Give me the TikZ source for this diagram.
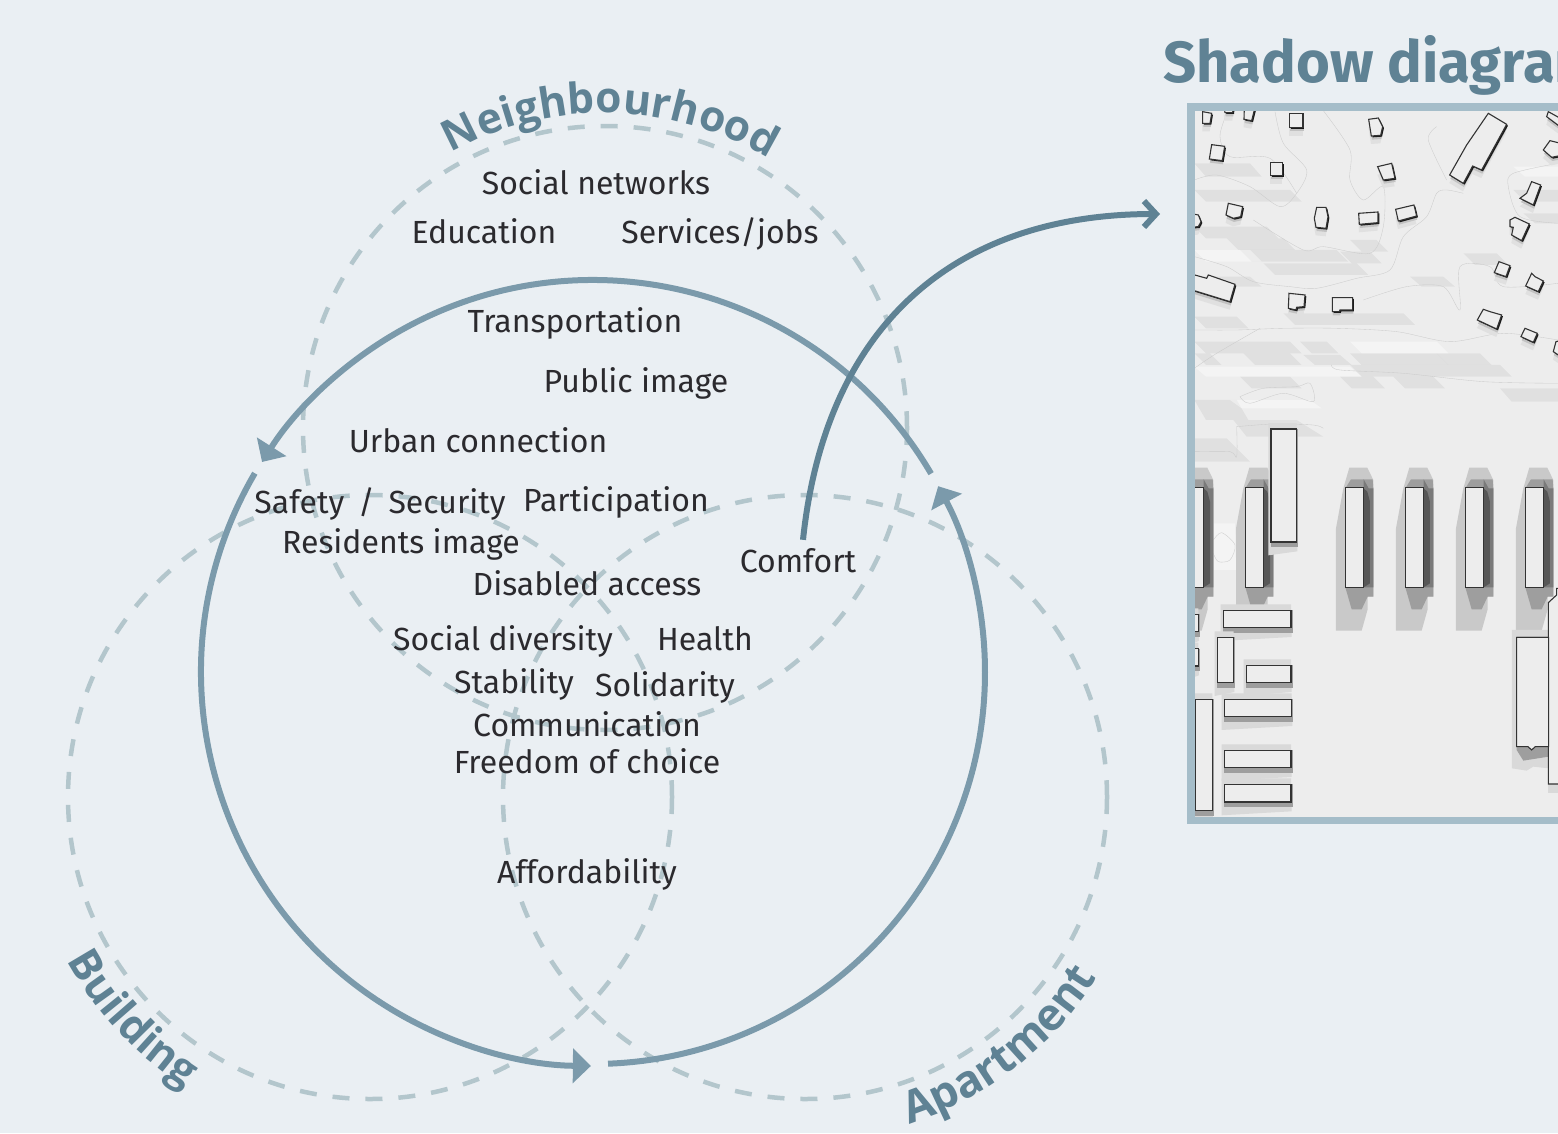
\documentclass[tikz,border=0pt]{standalone}
\usepackage{fontspec}
\setmainfont{Fira Sans}
\newfontfamily\headf{Open Sans}
\usetikzlibrary{arrows.meta,decorations.text,calc}
\definecolor{bgc}{HTML}{EAEFF3}
\definecolor{solidc}{HTML}{7B9AAB}
\definecolor{dashc}{HTML}{B3C6CC}
\definecolor{deepc}{HTML}{5F8294}
\definecolor{inkc}{HTML}{2B2A2E}
\definecolor{framec}{HTML}{A5BDC9}
\definecolor{mapc}{HTML}{EDEDED}
\tikzset{
  lab/.style={anchor=base,inner sep=0pt,text=inkc,font=\fontsize{32}{32}\selectfont},
  ringdash/.style={draw=dashc,line width=4.5pt,dash pattern=on 17pt off 16pt},
  ringarc/.style={draw=solidc,line width=6pt,-{Triangle[length=18pt,width=34pt,fill=solidc]}},
  patchdark/.style={fill=black,fill opacity=.05},
  patchlight/.style={fill=white,fill opacity=.4},
  contourl/.style={draw=black!20,line width=.35pt},
  bldg/.style={fill=mapc,draw=black!80,line width=1.1pt,line join=miter},
}
\newcommand\patchd[4]{\fill[patchdark] (#1,#2)--(#3,#2)--($(#3,#4)+(35,0)$)--($(#1,#4)+(35,0)$)--cycle;}
\newcommand\patchl[4]{\fill[patchlight] (#1,#2)--(#3,#2)--($(#3,#4)+(35,0)$)--($(#1,#4)+(35,0)$)--cycle;}
\newcommand\hut[1]{%
  \fill[black!12,shift={(-1,24)}] #1 -- cycle;
  \fill[black!24,shift={(2,11)}] #1 -- cycle;
  \fill[black!90,shift={(4,4)}] #1 -- cycle;
  \draw[bldg] #1 -- cycle;}
\newcommand\slab[2]{%
  \begin{scope}[shift={(#1,0)}]
  \fill[black!21] (508,143)--(562,143)--(580,180)--(580,530)--(563,530)--(563,568)--(545,632)--(468,632)--(468,325)--(490,205)--cycle;
  \fill[black!38] (513,178)--(578,178)--(580,205)--(580,530)--(563,530)--(545,568)--(515,568)--(496,502)--(496,205)--cycle;
  \fill[black!52] (551,178)--(566,205)--(580,205)--(580,502)--(551,502)--cycle;
  \fill[black!66] (551,205)--(562,215)--(570,245)--(570,490)--(551,502)--cycle;
  \draw[bldg] (#2,203) rectangle (551,502);
  \end{scope}}
\newcommand\blok[4]{%
  \fill[black!15] (#1-8,#2-18)--(#3,#2-18)--(#3+2,#4+28)--(#1-8,#4+40)--cycle;
  \fill[black!38] (#1,#2)--(#3+5,#2)--(#3+5,#4+16)--(#1,#4+16)--cycle;
  \draw[bldg] (#1,#2) rectangle (#3,#4);}
\begin{document}
\begin{tikzpicture}[x=1pt,y=-1pt]
\clip (0,0) rectangle (1558,1133);
\fill[bgc] (0,0) rectangle (1558,1133);
% ---- map ----
\begin{scope}
\clip (1195,110) rectangle (1558,818);
\fill[mapc] (1195,110) rectangle (1558,818);
\begin{scope}[shift={(1150,20)},x=.3333pt,y=-.3333pt]
\patchd{133}{510}{420}{545}
\patchd{133}{620}{350}{655}
\patchd{230}{655}{400}{690}
\patchd{270}{690}{560}{725}
\patchd{340}{730}{620}{765}
\patchd{600}{660}{680}{695}
\patchd{570}{695}{660}{730}
\patchd{133}{965}{420}{1000}
\patchd{450}{965}{530}{1000}
\patchd{133}{1000}{180}{1035}
\patchd{460}{1005}{570}{1035}
\patchd{600}{1035}{1050}{1070}
\patchd{860}{1000}{990}{1035}
\patchd{270}{1070}{420}{1105}
\patchd{570}{1070}{670}{1105}
\patchd{730}{1070}{850}{1105}
\patchd{1050}{1105}{1224}{1145}
\patchd{780}{770}{880}{800}
\patchd{940}{700}{1040}{735}
\patchd{1090}{510}{1224}{545}
\patchd{1120}{580}{1224}{610}
\patchd{133}{430}{300}{470}
\patchd{400}{880}{760}{915}
\patchd{133}{1140}{260}{1200}
\patchd{133}{770}{300}{800}
\patchd{133}{890}{260}{925}
\patchd{280}{1000}{420}{1035}
\patchd{600}{1000}{860}{1035}
\patchl{133}{690}{300}{725}
\patchl{133}{1040}{600}{1070}
\patchl{600}{965}{860}{1000}
\patchl{240}{1140}{480}{1165}
\patchl{1090}{440}{1224}{470}
\draw[contourl] plot[smooth] coordinates {(133,710)(230,740)(310,785)(420,800)(500,805)(620,775)(720,750)(760,650)(830,590)(860,520)(890,510)(940,520)};
\draw[contourl] plot[smooth] coordinates {(133,480)(200,465)(300,500)(390,560)(440,520)(470,450)(400,370)(375,275)};
\draw[contourl] plot[smooth] coordinates {(230,280)(210,350)(240,410)(360,415)(440,520)};
\draw[contourl] plot[smooth] coordinates {(520,272)(600,390)(600,480)(640,540)(700,500)(700,620)(660,700)(520,680)(460,690)(310,600)};
\draw[contourl] plot[smooth] coordinates {(133,930)(260,930)(400,925)(560,925)(740,935)(900,965)(1060,940)(1224,960)};
\draw[contourl] plot[smooth] coordinates {(133,1045)(200,1000)(330,925)};
\draw[contourl] plot[smooth] coordinates {(545,1035)(570,1050)(760,1060)(1000,1085)(1224,1090)};
\draw[contourl] plot[smooth] coordinates {(270,1130)(340,1105)(440,1100)(480,1090)(490,1145)(400,1120)(300,1150)(270,1130)};
\draw[contourl] plot[smooth] coordinates {(640,840)(770,800)(880,800)(930,870)(930,740)(1020,740)(1060,800)(1224,790)};
\draw[contourl] plot[smooth] coordinates {(860,320)(835,360)(890,480)};
\draw[contourl] plot[smooth] coordinates {(1224,430)(1090,460)(1075,500)(1110,590)(1224,610)};
\hut{(158,275)--(185,280)--(180,310)--(158,310)}
\hut{(222,260)--(250,260)--(248,278)--(225,278)}
\hut{(283,262)--(315,262)--(305,302)--(282,298)}
\hut{(419,281)--(459,281)--(459,323)--(419,323)}
\hut{(656,298)--(685,294)--(698,320)--(692,346)--(664,348)}
\hut{(185,374)--(224,379)--(217,422)--(178,417)}
\hut{(361,427)--(398,427)--(398,467)--(361,467)}
\hut{(683,440)--(725,430)--(735,475)--(700,480)}
\hut{(1015,280)--(1070,313)--(995,450)--(968,438)--(940,490)--(899,465)--(950,375)}
\hut{(235,550)--(278,560)--(272,590)--(250,595)--(228,585)}
\hut{(500,562)--(528,562)--(534,590)--(528,625)--(498,622)--(493,595)}
\hut{(626,580)--(684,576)--(684,608)--(628,613)}
\hut{(737,568)--(792,555)--(800,588)--(745,603)}
\hut{(120,580)--(145,585)--(153,605)--(145,620)--(120,622)}
\hut{(120,761)--(170,775)--(175,765)--(255,793)--(240,845)--(120,808)}
\hut{(417,820)--(465,825)--(462,860)--(440,862)--(438,870)--(415,865)}
\hut{(547,833)--(608,833)--(608,870)--(570,870)--(568,875)--(547,875)}
\hut{(1195,275)--(1240,300)--(1230,320)--(1190,290)}
\hut{(1180,390)--(1200,362)--(1240,372)--(1240,405)--(1205,412)}
\hut{(1145,485)--(1172,495)--(1150,555)--(1110,535)--(1130,520)}
\hut{(1080,600)--(1095,592)--(1138,612)--(1115,662)--(1085,645)--(1090,622)--(1080,620)}
\hut{(1047,725)--(1080,737)--(1068,770)--(1033,758)}
\hut{(1145,760)--(1155,770)--(1180,783)--(1165,815)--(1127,798)}
\hut{(1000,868)--(1020,875)--(1055,885)--(1040,927)--(982,900)}
\hut{(1125,925)--(1162,940)--(1150,967)--(1113,950)}
\hut{(1218,965)--(1240,960)--(1240,1015)--(1210,995)}
\end{scope}
\begin{scope}[shift={(1180,420)},x=.3333pt,y=-.3333pt]
\fill[patchdark] (45,55)--(140,55)--(210,125)--(45,125)--cycle;
\fill[patchlight] (100,310)--(165,310)--(168,450)--(100,450)--cycle;
\fill[patchdark] (160,0)--(350,0)--(430,50)--(200,50)--cycle;
\draw[contourl] plot[smooth] coordinates {(170,20)(280,12)(400,15)(430,25)};
\draw[contourl] plot[smooth] coordinates {(45,95)(150,95)(170,110)(170,20)};
\draw[contourl] plot[smooth] coordinates {(100,360)(125,338)(165,375)(150,420)(115,425)(100,400)};
\slab{-480}{400}
\slab{-300}{496}
\slab{0}{496}
\slab{180}{496}
\slab{360}{496}
\slab{540}{496}
\blok{273}{27}{350}{366}
\blok{130}{571}{333}{623}
\blok{30}{583}{55}{635}
\blok{30}{686}{55}{738}
\blok{112}{652}{161}{788}
\blok{199}{736}{333}{788}
\blok{133}{838}{335}{890}
\blok{46}{838}{97}{1172}
\blok{133}{991}{333}{1043}
\blok{133}{1093}{333}{1146}
\fill[black!15] (996,630)--(1106,630)--(1106,1045)--(1060,1040)--(1040,1052)--(996,1045)--cycle;
\fill[black!38] (1010,650)--(1106,650)--(1106,1010)--(1030,1022)--(1010,990)--cycle;
\fill[black!15] (1105,1090)--(1140,1090)--(1140,1118)--(1105,1118)--cycle;
\draw[bldg] (1105,1092)--(1105,548)--(1130,525)--(1130,505)--(1160,505)--(1160,1092)--cycle;
\draw[bldg] (1010,652)--(1106,652)--(1106,980)--(1066,980)--(1055,990)--(1044,980)--(1010,980)--cycle;
\end{scope}
\end{scope}
\draw[framec,line width=7.6pt] (1191,107) rectangle (1600,820.5);
\node[anchor=base west,inner sep=0pt,text=deepc,font=\fontsize{58}{58}\selectfont\bfseries] (title) at (1163,82) {Shadow diagram};
% ---- rings ----
\coordinate (cn) at (605,428);
\coordinate (cb) at (370,797);
\coordinate (ca) at (805,797);
\coordinate (cs) at (593,672);
\coordinate (cl) at (595,672);
\draw[ringdash] (cn) circle[radius=302];
\draw[ringdash] (cb) circle[radius=302];
\draw[ringdash] (ca) circle[radius=302];
\draw[ringarc] (cs) ++(-30.4:392) arc[start angle=-30.4,end angle=-147.6,radius=392];
\draw[ringarc] (cl) ++(-149.7:394) arc[start angle=-149.7,end angle=-269.4,radius=394];
\draw[ringarc] (cs) ++(87.8:392) arc[start angle=87.8,end angle=-28.3,radius=392];
% ---- curved titles ----
\path[decorate,decoration={text along path,text align=center,
  text={|\headf\fontsize{42.5}{42.5}\selectfont\bfseries\color{deepc}|Neighbourhood}}]
  (cn) ++(-122:315) arc[start angle=-122,end angle=-56,radius=315];
\path[decorate,decoration={text along path,text align=center,
  text={|\headf\fontsize{43}{43}\selectfont\bfseries\color{deepc}|Building}}]
  (cb) ++(157:344) arc[start angle=157,end angle=117,radius=344];
\path[decorate,decoration={text along path,text align=center,
  text={|\headf\fontsize{44.5}{44.5}\selectfont\bfseries\color{deepc}|Apartment}}]
  (ca) ++(77:343) arc[start angle=77,end angle=27,radius=343];
% ---- labels ----
\node[lab] (n1) at (596,194) {Social networks};
\node[lab] (n2) at (484,243) {Education};
\node[lab] (n3) at (720,243) {Services/jobs};
\node[lab] (n4) at (575,332) {Transportation};
\node[lab] (n5) at (636,392) {Public image};
\node[lab] (n6) at (478,452) {Urban connection};
\node[lab] (n7) at (380,513) {Safety\, / \,Security};
\node[lab] (n8) at (616,511) {Participation};
\node[lab] (n9) at (401,553) {Residents image};
\node[lab] (comfort) at (798,572) {Comfort};
\node[lab] (n10) at (587,595) {Disabled access};
\node[lab] (n11) at (503,650) {Social diversity};
\node[lab] (n12) at (705,650) {Health};
\node[lab] (n13) at (514,693) {Stability};
\node[lab] (n14) at (665,696) {Solidarity};
\node[lab] (n15) at (587,736) {Communication};
\node[lab] (n16) at (587,773) {Freedom of choice};
\node[lab] (n17) at (587,883) {Affordability};
% ---- comfort arrow ----
\coordinate (mapin) at (1160,214);
\draw[deepc,line width=6pt,-{Straight Barb[length=12pt,width=26pt,line width=6pt]}]
  ($(comfort.north)+(5,-8)$) .. controls (825,330) and (950,214) .. (mapin);
\end{tikzpicture}
\end{document}
